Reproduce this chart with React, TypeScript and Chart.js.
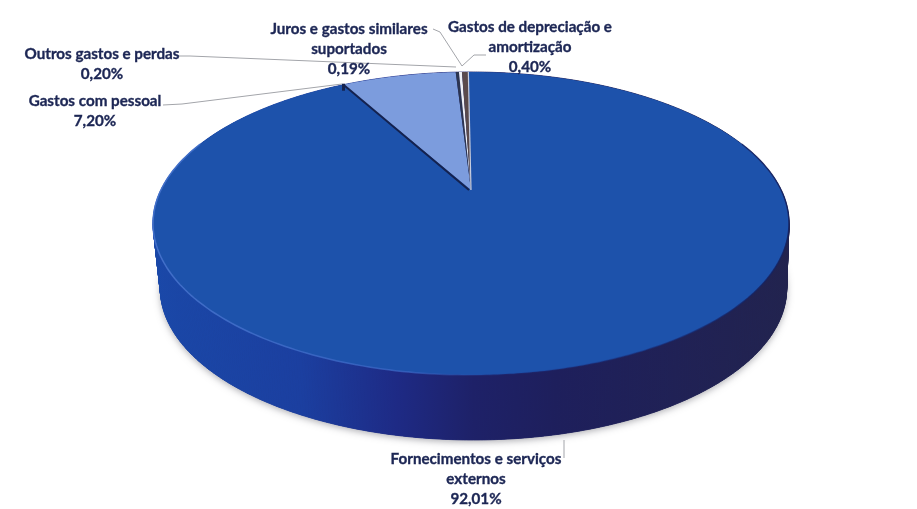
import React, { useEffect, useRef } from "react";
import { Chart, registerables } from "chart.js";

Chart.register(...registerables);

const categories = [
  "Fornecimentos e serviços externos",
  "Gastos com pessoal",
  "Outros gastos e perdas",
  "Juros e gastos similares suportados",
  "Gastos de depreciação e amortização",
];
const values = [92.01, 7.2, 0.2, 0.19, 0.4];
const valueLabels = ["92,01%", "7,20%", "0,20%", "0,19%", "0,40%"];
const labelLines = [
  ["Fornecimentos e serviços", "externos"],
  ["Gastos com pessoal"],
  ["Outros gastos e perdas"],
  ["Juros e gastos similares", "suportados"],
  ["Gastos de depreciação e", "amortização"],
];
const sliceColors = ["#1d52ab", "#7c9cdd", "#2c3550", "#eef0f6", "#5a4a4c"];
const labelAnchors = [
  [476, 459],
  [95, 101],
  [102, 54],
  [349, 29],
  [530, 27],
];
const leaderPaths = [
  [[564, 458], [564, 440]],
  [[163, 105], [182, 104], [342, 84]],
  [[178, 56], [190, 56], [456, 67]],
  [[433, 29], [440, 32], [462, 66]],
  [[486, 55], [474, 55], [462, 66]],
];

// projection of the flat pie onto the tilted 3D disc
const CX = 471;
const CY = 190;
const A = 310.1;
const B = 144.1;
const K = 0.221;
const DEPTH = 65;
const LOWER_SCALE = 0.985;

function project(a: number, dy = 0, sx = 1): [number, number] {
  const X = Math.cos(a);
  const Y = Math.sin(a);
  const d = 1 - K * Y;
  return [CX + 2.5 * (sx === 1 ? 0 : 1) + (sx * A * X) / d, CY + (B * Y) / d + dy];
}

function tracePlane(ctx: CanvasRenderingContext2D, start: number, end: number) {
  ctx.beginPath();
  ctx.moveTo(CX, CY);
  const n = Math.max(2, Math.ceil(Math.abs(end - start) / 0.01));
  for (let i = 0; i <= n; i++) {
    const p = project(start + ((end - start) * i) / n);
    ctx.lineTo(p[0], p[1]);
  }
  ctx.closePath();
}

const disc3d = {
  id: "disc3d",
  beforeDatasetsDraw(chart: any) {
    const ctx: CanvasRenderingContext2D = chart.ctx;
    const arcs = chart.getDatasetMeta(0).data;
    ctx.save();

    // soft shadow under the disc
    ctx.save();
    ctx.shadowColor = "rgba(90,90,100,0.5)";
    ctx.shadowBlur = 7;
    ctx.shadowOffsetY = 2;
    ctx.fillStyle = "#1c2c6c";
    ctx.beginPath();
    for (let i = 0; i <= 720; i++) {
      const p = project((i / 720) * Math.PI * 2, DEPTH, LOWER_SCALE);
      if (i === 0) ctx.moveTo(p[0], p[1]);
      else ctx.lineTo(p[0], p[1]);
    }
    ctx.closePath();
    ctx.fill();
    ctx.restore();

    // outer wall
    const wall = ctx.createLinearGradient(155, 0, 792, 0);
    wall.addColorStop(0, "#1a48a8");
    wall.addColorStop(0.23, "#1b3fa0");
    wall.addColorStop(0.38, "#1e2a85");
    wall.addColorStop(0.5, "#1e2168");
    wall.addColorStop(0.63, "#1e1f5c");
    wall.addColorStop(1, "#22234e");
    ctx.fillStyle = wall;
    ctx.strokeStyle = wall;
    ctx.lineWidth = 0.8;
    for (let i = 0; i < 720; i++) {
      const a0 = (i / 720) * Math.PI * 2;
      const a1 = ((i + 1) / 720) * Math.PI * 2;
      const p0 = project(a0);
      const p1 = project(a1);
      const q0 = project(a0, DEPTH, LOWER_SCALE);
      const q1 = project(a1, DEPTH, LOWER_SCALE);
      ctx.beginPath();
      ctx.moveTo(p0[0], p0[1]);
      ctx.lineTo(p1[0], p1[1]);
      ctx.lineTo(q1[0], q1[1]);
      ctx.lineTo(q0[0], q0[1]);
      ctx.closePath();
      ctx.fill();
      ctx.stroke();
    }

    // top face: angles come from the library's arc elements
    arcs.forEach((arc: any, i: number) => {
      const { startAngle, endAngle } = arc.getProps(["startAngle", "endAngle"], true);
      tracePlane(ctx, startAngle, endAngle);
      ctx.fillStyle = sliceColors[i];
      ctx.fill();
    });

    // bevel on the front of the rim: light on the left, dark on the right
    const bevel = ctx.createLinearGradient(155, 0, 792, 0);
    bevel.addColorStop(0, "rgba(70,115,205,0.9)");
    bevel.addColorStop(0.4, "rgba(60,105,200,0.7)");
    bevel.addColorStop(0.55, "rgba(30,60,150,0.2)");
    bevel.addColorStop(1, "rgba(20,30,90,0.8)");
    ctx.strokeStyle = bevel;
    ctx.lineWidth = 1.5;
    ctx.beginPath();
    for (let i = -20; i <= 200; i++) {
      const p = project((i / 180) * Math.PI);
      if (i === -20) ctx.moveTo(p[0], p[1]);
      else ctx.lineTo(p[0], p[1]);
    }
    ctx.stroke();

    // dark cut edge of the blue slice where it meets the light one
    const blueEnd = arcs[0].getProps(["endAngle"], true).endAngle;
    const rim = project(blueEnd);
    ctx.strokeStyle = "#14224f";
    ctx.lineWidth = 2;
    ctx.beginPath();
    ctx.moveTo(rim[0], rim[1]);
    ctx.lineTo(CX - 2, CY);
    ctx.stroke();
    ctx.lineWidth = 3;
    ctx.beginPath();
    ctx.moveTo(rim[0], rim[1] - 1);
    ctx.lineTo(rim[0], rim[1] + 6);
    ctx.stroke();
    const blueStart = project(arcs[0].getProps(["startAngle"], true).startAngle);
    ctx.strokeStyle = "#c6cde0";
    ctx.lineWidth = 1.2;
    ctx.beginPath();
    ctx.moveTo(blueStart[0], blueStart[1]);
    ctx.lineTo(CX, CY);
    ctx.stroke();

    // leader lines
    ctx.strokeStyle = "#a3a5aa";
    ctx.lineWidth = 1;
    leaderPaths.forEach((path) => {
      ctx.beginPath();
      path.forEach((p, j) => (j ? ctx.lineTo(p[0], p[1]) : ctx.moveTo(p[0], p[1])));
      ctx.stroke();
    });

    // labels
    ctx.fillStyle = "#1d2755";
    ctx.strokeStyle = "#1d2755";
    ctx.lineWidth = 0.35;
    ctx.font = "bold 15.2px Lato";
    ctx.textAlign = "center";
    ctx.textBaseline = "middle";
    categories.forEach((_, i) => {
      const [x, y] = labelAnchors[i];
      const lines = [...labelLines[i], valueLabels[i]];
      lines.forEach((t, j) => {
        ctx.fillText(t, x, y + j * 20);
        ctx.strokeText(t, x, y + j * 20);
      });
    });

    ctx.restore();
    return false;
  },
};

export default function App() {
  const ref = useRef<HTMLCanvasElement>(null);
  useEffect(() => {
    document.body.style.margin = "0";
    document.body.style.background = "#fff";
    const chart = new Chart(ref.current!, {
      type: "pie",
      data: {
        labels: categories,
        datasets: [{ data: values, backgroundColor: sliceColors, borderWidth: 0 }],
      },
      options: {
        animation: false,
        responsive: false,
        rotation: -0.6,
        plugins: { legend: { display: false }, tooltip: { enabled: false } },
      },
      plugins: [disc3d],
    });
    return () => chart.destroy();
  }, []);
  return (
    <canvas
      ref={ref}
      width={917}
      height={509}
      style={{ display: "block", width: 917, height: 509, filter: "blur(0.5px)" }}
    />
  );
}
